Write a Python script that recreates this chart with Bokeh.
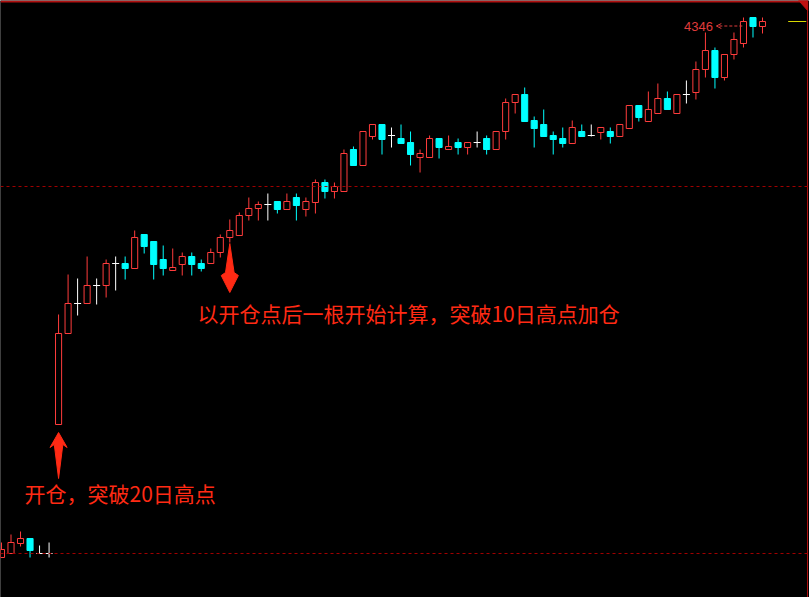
from bokeh.plotting import figure
from bokeh.models import Range1d, Span, Arrow, OpenHead
from bokeh.embed import file_html
from bokeh.resources import INLINE
from bokeh.core.properties import value

# ---- data ----
opens = [3266, 3274, 3294, 3304, 3274, 3274, 3532, 3714, 3774, 3774,
         3810, 3810, 3854, 3854, 3844, 3912, 3898, 3862, 3840, 3852,
         3868, 3854, 3854, 3876, 3906, 3910, 3950, 3964, 3972, 3978,
         3962, 3986, 3962, 3976, 4016, 3998, 3998, 4082, 4050, 4108,
         4132, 4110, 4104, 4096, 4066, 4066, 4104, 4082, 4096, 4086,
         4096, 4104, 4082, 4118, 4176, 4192, 4140, 4132, 4110, 4104,
         4094, 4118, 4110, 4116, 4118, 4108, 4124, 4170, 4138, 4154,
         4184, 4154, 4192, 4196, 4242, 4280, 4226, 4272, 4294, 4346,
         4328]
closes = [3282, 3296, 3304, 3280, 3274, 3274, 3714, 3774, 3774, 3810,
          3810, 3854, 3854, 3844, 3906, 3888, 3852, 3844, 3846, 3868,
          3852, 3844, 3876, 3906, 3920, 3950, 3964, 3972, 3972, 3962,
          3978, 3970, 3978, 4016, 3998, 4008, 4074, 4050, 4118, 4132,
          4102, 4110, 4094, 4072, 4074, 4104, 4086, 4088, 4086, 4096,
          4096, 4082, 4118, 4176, 4192, 4138, 4124, 4108, 4102, 4094,
          4126, 4108, 4110, 4126, 4108, 4132, 4170, 4146, 4162, 4184,
          4162, 4192, 4192, 4242, 4280, 4226, 4272, 4302, 4338, 4328,
          4338]
highs = [3296, 3312, 3318, 3304, 3290, 3296, 3752, 3832, 3824, 3868,
         3824, 3862, 3868, 3868, 3920, 3912, 3898, 3890, 3884, 3876,
         3876, 3862, 3884, 3912, 3942, 3956, 3986, 3978, 3994, 3978,
         3994, 3994, 3986, 4022, 4022, 4016, 4082, 4088, 4118, 4132,
         4132, 4126, 4132, 4118, 4082, 4110, 4104, 4110, 4104, 4096,
         4118, 4110, 4118, 4184, 4192, 4206, 4148, 4162, 4118, 4126,
         4140, 4132, 4132, 4126, 4126, 4132, 4170, 4170, 4198, 4214,
         4198, 4192, 4220, 4258, 4316, 4286, 4272, 4316, 4346, 4346,
         4346]
lows = [3266, 3274, 3288, 3266, 3274, 3266, 3532, 3714, 3750, 3774,
        3772, 3786, 3800, 3822, 3844, 3874, 3822, 3830, 3840, 3830,
        3830, 3838, 3854, 3866, 3896, 3910, 3940, 3940, 3940, 3954,
        3962, 3940, 3948, 3954, 3984, 3984, 3998, 4050, 4050, 4102,
        4072, 4086, 4094, 4050, 4036, 4066, 4064, 4082, 4072, 4072,
        4086, 4072, 4082, 4102, 4154, 4138, 4086, 4108, 4072, 4086,
        4094, 4108, 4108, 4102, 4094, 4108, 4124, 4138, 4138, 4154,
        4162, 4154, 4174, 4182, 4226, 4204, 4220, 4262, 4286, 4306,
        4314]
ref_levels = [4008, 3274]
peak_label = "4346"
note_open = "开仓，突破20日高点"
note_add = "以开仓点后一根开始计算，突破10日高点加仓"
open_bar = 6
add_bar = 24

# ---- styling ----
RED = "#ff3c3c"
CYAN = "#00ffff"
WHITE = "#ffffff"
NOTE = "#ff2a14"
W, H = 809, 597
bar_px = 9.5125
ppx = 2.0  # price per pixel
x0 = -1 / bar_px
y0 = 4380 - H * ppx
ytop = y0 + H * ppx
hw = 0.37

p = figure(width=W, height=H, x_range=Range1d(x0, x0 + W / bar_px),
           y_range=Range1d(y0, ytop), output_backend="svg",
           toolbar_location=None, x_axis_location=None, y_axis_location=None,
           min_border=0, background_fill_color="black",
           border_fill_color="black", outline_line_color=None)
p.grid.grid_line_color = None

# cover the very left pixel column
p.quad(left=[x0 - 0.5], right=[x0 + 0.08], bottom=[y0], top=[ytop],
       fill_color="black", line_color=None)

for lv in ref_levels:
    p.add_layout(Span(location=lv, dimension="width", line_color="#a00000",
                      line_dash="3 3", line_width=1))

n = len(opens)
up = [i for i in range(n) if closes[i] > opens[i]]
dn = [i for i in range(n) if closes[i] < opens[i]]
dj = [i for i in range(n) if closes[i] == opens[i]]

# up candles: hollow red
p.segment(x0=up, y0=[highs[i] for i in up], x1=up, y1=[closes[i] for i in up],
          line_color=RED, line_width=1)
p.segment(x0=up, y0=[opens[i] for i in up], x1=up, y1=[lows[i] for i in up],
          line_color=RED, line_width=1)
p.vbar(x=up, width=0.64, top=[closes[i] for i in up], bottom=[opens[i] for i in up],
       fill_color="black", line_color=RED, line_width=1)

# down candles: filled cyan
p.segment(x0=dn, y0=[highs[i] for i in dn], x1=dn, y1=[lows[i] for i in dn],
          line_color=CYAN, line_width=1)
p.vbar(x=dn, width=0.64, top=[opens[i] for i in dn], bottom=[closes[i] for i in dn],
       fill_color=CYAN, line_color=CYAN, line_width=1)

# doji: white cross
p.segment(x0=dj, y0=[highs[i] for i in dj], x1=dj, y1=[lows[i] for i in dj],
          line_color=WHITE, line_width=1)
p.segment(x0=[i - hw for i in dj], y0=[closes[i] for i in dj],
          x1=[i + hw for i in dj], y1=[closes[i] for i in dj],
          line_color=WHITE, line_width=1)

# up arrow under the opening bar
bx, L = open_bar, lows[open_bar]
p.patch(x=[bx, bx + 0.9, bx + 0.45, bx, bx - 0.45, bx - 0.9],
        y=[L - 16, L - 46, L - 40, L - 108, L - 40, L - 46],
        fill_color=NOTE, line_color=NOTE)
# down arrow under the add bar
ax, L2 = add_bar, lows[add_bar]
p.patch(x=[ax, ax + 0.45, ax + 0.9, ax, ax - 0.9, ax - 0.45],
        y=[L2 - 2, L2 - 60, L2 - 66, L2 - 100, L2 - 66, L2 - 60],
        fill_color=NOTE, line_color=NOTE)

p.text(x=[bx - 3.58], y=[L - 136], text=[note_open], text_color=NOTE,
       text_font=value("Noto Sans CJK SC"), text_font_size="21px",
       text_align="left", text_baseline="middle")
p.text(x=[ax - 3.4], y=[L2 - 140], text=[note_add], text_color=NOTE,
       text_font=value("Noto Sans CJK SC"), text_font_size="21px",
       text_align="left", text_baseline="middle")

# peak marker
m = highs.index(max(highs))
ly = max(highs) - 17
p.add_layout(Arrow(end=OpenHead(size=5, line_color="#e03c3c", line_width=1),
                   x_start=m - 0.12, y_start=ly, x_end=m - 2.85, y_end=ly,
                   line_color="#e03c3c", line_dash="3 2", line_width=1))
p.text(x=[m - 3.2], y=[ly], text=[peak_label], text_color="#e03c3c",
       text_font=value("Liberation Sans"), text_font_size="13px",
       text_align="right", text_baseline="middle")

# last price tick on the right and frame
p.segment(x0=[n + 1.7], y0=[closes[-1]], x1=[n + 3.6], y1=[closes[-1]],
          line_color="#d8d800", line_width=1)
p.segment(x0=[x0, n + 3.73], y0=[ytop - 2, ytop], x1=[n + 3.73, n + 3.73], y1=[ytop - 2, y0],
          line_color="#b01010", line_width=[2, 1])
p.patch(x=[n + 2.8, n + 3.75, n + 3.75], y=[ytop, ytop, ytop - 20],
        fill_color="#c01010", line_color="#c01010")

html = file_html(p, INLINE)
html = html.replace("<body>", '<body style="margin:0;background:#000000;overflow:hidden;">', 1)
open("out.html", "w").write(html)
